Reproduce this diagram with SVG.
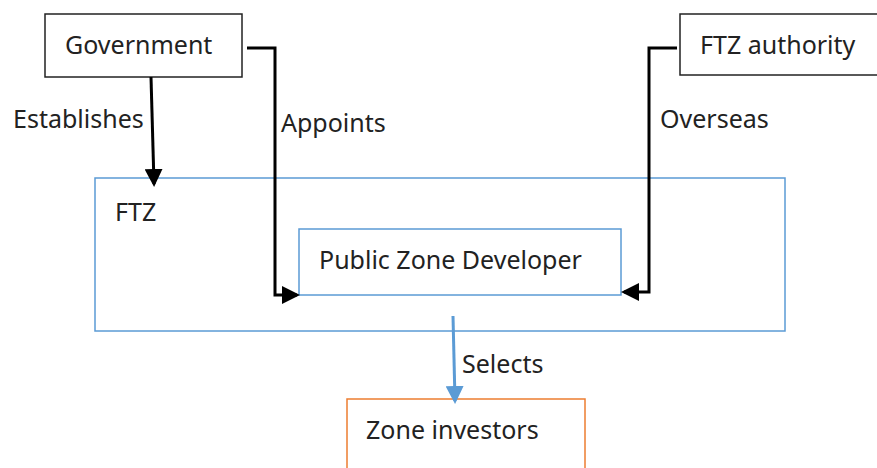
<svg xmlns="http://www.w3.org/2000/svg" width="877" height="468" viewBox="0 0 877 468">
<style>
text{font-family:"Noto Sans","Open Sans","DejaVu Sans",sans-serif;font-size:25px;fill:#222}
.bk{fill:#fff;stroke:#222;stroke-width:1.5}
.bl{fill:none;stroke:#5b9bd5;stroke-width:1.5}
.or{fill:#fff;stroke:#ed7d31;stroke-width:1.5}
.c{fill:none;stroke:#000;stroke-width:3}
.cb{fill:none;stroke:#5b9bd5;stroke-width:3}
</style>
<defs>
<marker id="ah" markerWidth="6" markerHeight="6" refX="5" refY="3" orient="auto" markerUnits="strokeWidth"><path d="M0,0 L6,3 L0,6 Z" fill="#000"/></marker>
<marker id="ahb" markerWidth="6" markerHeight="6" refX="5" refY="3" orient="auto" markerUnits="strokeWidth"><path d="M0,0 L6,3 L0,6 Z" fill="#5b9bd5"/></marker>
</defs>
<rect width="877" height="468" fill="#fff"/>
<g id="ftz"><rect class="bl" x="95" y="178" width="690" height="153"/><text x="115" y="221">FTZ</text></g>
<g id="government"><rect class="bk" x="45" y="14" width="197" height="63"/><text x="65" y="54">Government</text></g>
<g id="ftz-authority"><rect class="bk" x="680" y="14" width="200" height="61"/><text x="700" y="54">FTZ authority</text></g>
<g id="developer"><rect class="bl" x="299" y="229" width="322" height="66" fill="#fff"/><text x="319" y="269">Public Zone Developer</text></g>
<g id="investors"><rect class="or" x="347" y="399" width="238" height="80"/><text x="366" y="439">Zone investors</text></g>
<g id="connectors">
<path class="c" d="M151,77 L154,184" marker-end="url(#ah)"/>
<path class="c" d="M247,48 H275 V295 H297" marker-end="url(#ah)"/>
<path class="c" d="M677,48 H649 V292 H624" marker-end="url(#ah)"/>
<path class="cb" d="M453,316 L455,401" marker-end="url(#ahb)"/>
<text x="13" y="128">Establishes</text>
<text x="281" y="132">Appoints</text>
<text x="660" y="128">Overseas</text>
<text x="462" y="373">Selects</text>
</g>
</svg>
